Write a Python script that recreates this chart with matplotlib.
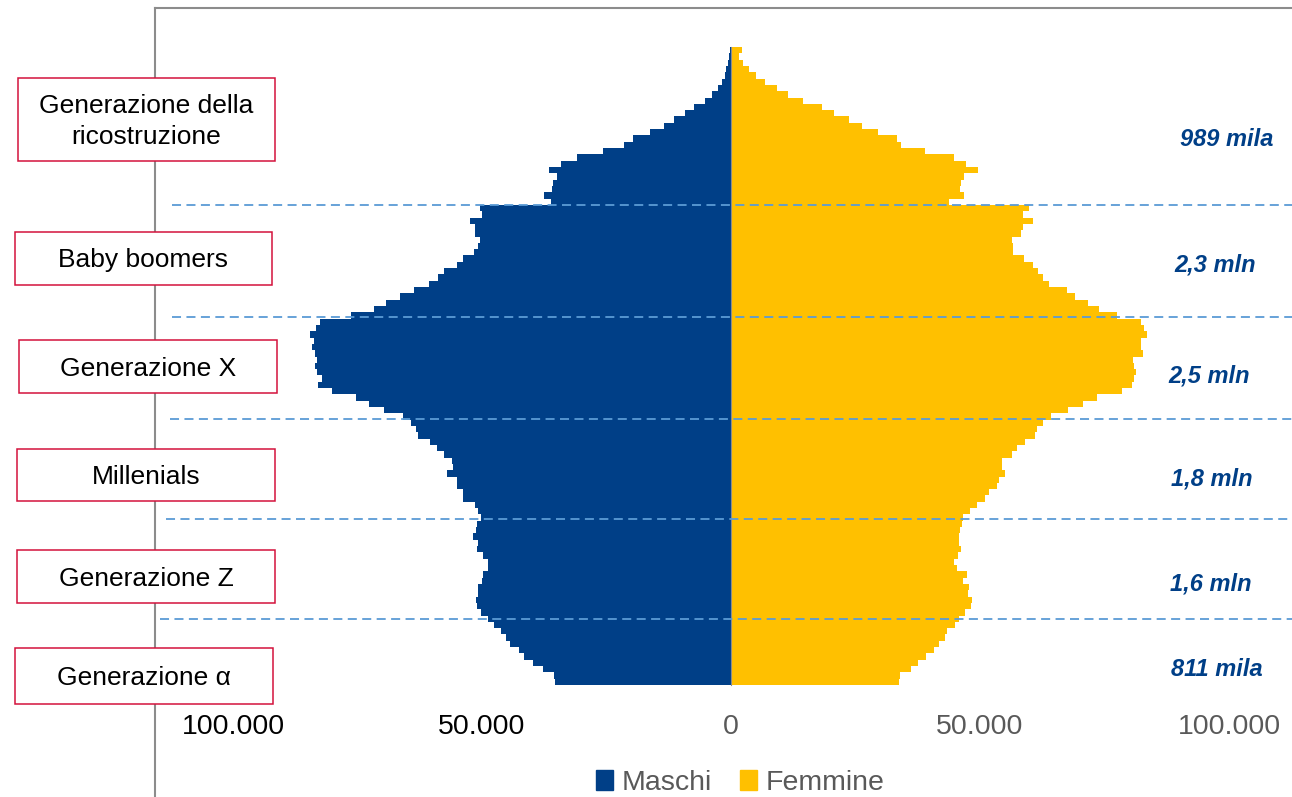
import matplotlib
matplotlib.use('Agg')
import matplotlib.pyplot as plt
from matplotlib.patches import Rectangle, Patch
import numpy as np

plt.rcParams['font.family'] = ['Liberation Sans', 'DejaVu Sans']

# età 0..100 (100 = 100 e oltre)
ages = np.arange(0, 101)

maschi = [35300, 35500, 37800, 39800, 41600, 42600, 44400, 45200, 46200, 47600,
          48800, 50200, 51000, 51200, 50800, 50800, 50000, 49800, 48800, 48800,
          49800, 51000, 50800, 51800, 51200, 51000, 50200, 50800, 51400, 53800,
          53800, 55000, 55000, 57000, 55800, 56000, 57600, 59000, 60400, 62800,
          63300, 64300, 65900, 69700, 72600, 75300, 80200, 82900, 82100, 83200,
          83500, 83200, 83500, 84100, 83700, 84500, 83300, 82500, 76400, 71700,
          69300, 66400, 63700, 60600, 58800, 57600, 55000, 53800, 51700, 50900,
          50400, 51500, 51500, 52400, 50000, 50500, 36200, 37600, 35900, 35700,
          34900, 36600, 34100, 31000, 25800, 21400, 19600, 16300, 13400, 11400,
          9200, 7400, 5300, 3800, 2700, 1800, 1300, 1100, 600, 400,
          200]

femmine = [33700, 33900, 36100, 37500, 39100, 40800, 41800, 43000, 43300, 45000,
           45800, 46900, 48100, 48300, 47600, 47700, 46600, 47300, 45300, 44800,
           45600, 46200, 45800, 45800, 46000, 46300, 46600, 47900, 49300, 51100,
           51900, 53400, 53900, 55000, 54400, 54500, 56400, 57400, 59100, 61100,
           61500, 62700, 64300, 67700, 70700, 73400, 78500, 80500, 80900, 81300,
           81000, 80800, 82800, 82300, 82400, 83500, 83000, 82300, 77600, 73800,
           71600, 69100, 67400, 63900, 62700, 61700, 60700, 58800, 56700, 56700,
           56500, 58200, 58600, 60600, 58600, 59900, 43700, 46700, 46000, 46200,
           46700, 49500, 47200, 44800, 39000, 34200, 33300, 29600, 26400, 23700,
           20700, 18200, 14500, 11500, 9200, 6800, 5000, 3700, 2500, 1600,
           2300]

generazioni = ['Generazione della\nricostruzione', 'Baby boomers', 'Generazione X',
               'Millenials', 'Generazione Z', 'Generazione \u03b1']
totali = ['989 mila', '2,3 mln', '2,5 mln', '1,8 mln', '1,6 mln', '811 mila']
confini = [75.5, 57.75, 41.6, 25.8, 9.95]   # separatori tra generazioni (età)

tick_values = [-100000, -50000, 0, 50000, 100000]
tick_colors = ['black', 'black', '#595959', '#595959', '#595959']

col_m = '#003F87'
col_f = '#FFC000'
col_box = '#D3123C'
col_dash = '#5B9BD5'

# layout in pixel
W, H = 1292, 797
bar_px = 638 / 101          # altezza di una barra
val_px = 50000 / 249        # persone per pixel
x0, y_base = 731, 685       # posizione dello zero e base età 0


def fx(px):
    return px / W


def fy(py):
    return 1 - py / H


fig = plt.figure(figsize=(W / 100, H / 100), dpi=100)
ax = fig.add_axes([fx(155), 0, fx(W) - fx(155), 1 - 8 / H])
ax.set_xlim((155 - x0) * val_px, (W - x0) * val_px)
ax.set_ylim((y_base - H) / bar_px - 0.5, (y_base - 8) / bar_px - 0.5)

ax.barh(ages, -np.array(maschi), height=1.0, color=col_m, linewidth=0)
ax.barh(ages, femmine, height=1.0, color=col_f, linewidth=0)
ax.plot([0, 0], [-0.5, 100.5], color='#8C8C8C', lw=0.8)

starts = [172, 172, 170, 166, 160]
for c, s in zip(confini, starts):
    ax.axhline(c, xmin=(s - 155) / (W - 155), xmax=1.0, color=col_dash,
               lw=1.3, dashes=(5, 3))

# etichette asse x
y_lab = (y_base - 727) / bar_px - 0.5
for v, c in zip(tick_values, tick_colors):
    ax.text(v, y_lab, f"{abs(v):,}".replace(',', '.'), ha='center', va='center',
            fontsize=20.5, color=c)

ax.set_xticks([])
ax.set_yticks([])
for s in ['bottom', 'right']:
    ax.spines[s].set_visible(False)
for s in ['left', 'top']:
    ax.spines[s].set_color('#8C8C8C')
    ax.spines[s].set_linewidth(1.5)

# riquadri generazioni
boxes = [(18, 78, 257, 83), (15, 232, 257, 53), (19, 340, 258, 53),
         (17, 449, 258, 52), (17, 550, 258, 53), (15, 648, 258, 56)]
for lab, (bx, by, bw, bh) in zip(generazioni, boxes):
    fig.add_artist(Rectangle((fx(bx), fy(by + bh)), bw / W, bh / H,
                             transform=fig.transFigure, facecolor='white',
                             edgecolor=col_box, lw=1.1))
    fig.text(fx(bx + bw / 2), fy(by + bh / 2 + 2), lab, ha='center', va='center',
             fontsize=19, linespacing=1.35)

# totali per generazione
tot_pos = [(1227, 140), (1215, 265), (1209, 376), (1212, 479), (1211, 584), (1217, 669)]
for t, (tx, ty) in zip(totali, tot_pos):
    fig.text(fx(tx), fy(ty), t, ha='center', va='center', fontsize=17,
             fontweight='bold', fontstyle='italic', color=col_m)

fig.legend(handles=[Patch(color=col_m), Patch(color=col_f)],
           labels=['Maschi', 'Femmine'], loc='center',
           bbox_to_anchor=(fx(740), fy(783)), ncol=2, frameon=False,
           fontsize=20.5, handlelength=0.6, handleheight=0.7,
           handletextpad=0.3, columnspacing=1.0, labelcolor='#595959')

fig.savefig('out.png', dpi=100)
